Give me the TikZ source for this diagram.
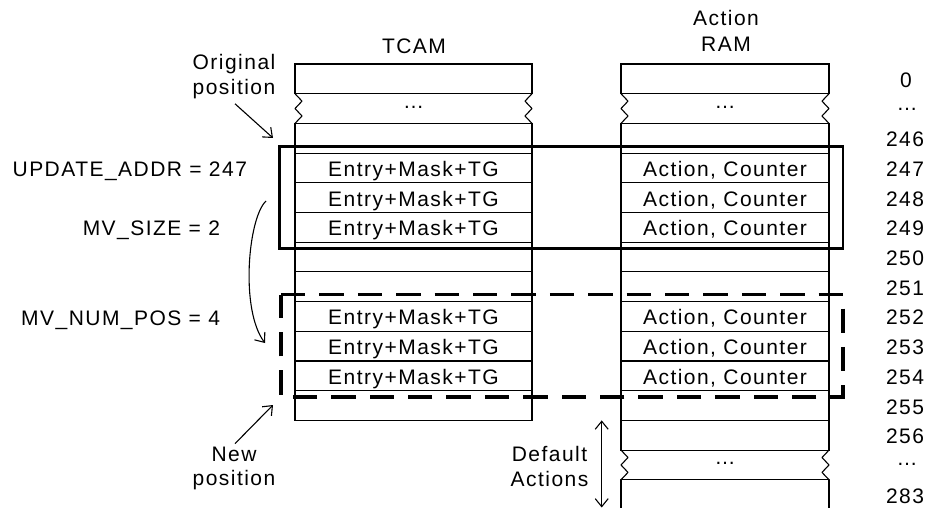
\documentclass[tikz,border=0pt]{standalone}
\usepackage{fontspec}
\setmainfont{Liberation Sans}[LetterSpace=7]
\usetikzlibrary{arrows.meta}
\begin{document}
\begin{tikzpicture}[x=1pt,y=-1pt,
  every node/.style={inner sep=0pt, outer sep=0pt, font=\fontsize{21}{25}\selectfont},
  cell/.style={draw, line width=1.1pt, minimum height=29.7pt, text height=17pt, text depth=0pt},
  tc/.style={cell, minimum width=237pt},
  ar/.style={cell, minimum width=208pt},
  num/.style={text height=17pt, text depth=0pt, minimum height=29.7pt},
  edge/.style={line width=1.1pt, line join=round},
  arr/.style={line width=1.1pt, -{Straight Barb[length=8pt,width=13pt]}},
  darr/.style={line width=1.1pt, {Straight Barb[length=8pt,width=13pt]}-{Straight Barb[length=8pt,width=13pt]}},
  movebox/.style={line width=2.6pt},
  newbox/.style={line width=3.8pt, dash pattern=on 24.4pt off 14pt}
]
\useasboundingbox (0,0) rectangle (927,508);

% ---------------- TCAM column
\node[tc] (t0)   at (413.5,78.85)  {};
\node[tc] (t246) at (413.5,138.25) {};
\node[tc] (t247) at (413.5,167.95) {Entry+Mask+TG};
\node[tc] (t248) at (413.5,197.65) {Entry+Mask+TG};
\node[tc] (t249) at (413.5,227.35) {Entry+Mask+TG};
\node[tc] (t250) at (413.5,257.05) {};
\node[tc] (t251) at (413.5,286.75) {};
\node[tc] (t252) at (413.5,316.45) {Entry+Mask+TG};
\node[tc] (t253) at (413.5,346.15) {Entry+Mask+TG};
\node[tc] (t254) at (413.5,375.85) {Entry+Mask+TG};
\node[tc] (t255) at (413.5,405.55) {};
\draw[edge] (t0.south west) -- ++(7,7.43) -- ++(-7,7.43) -- ++(7,7.43) -- (t246.north west);
\draw[edge] (t0.south east) -- ++(-7,7.43) -- ++(7,7.43) -- ++(-7,7.43) -- (t246.north east);
\node (tdots) at (413.5,107.5) {…};

% ---------------- Action RAM column
\node[ar] (a0)   at (725,78.85)  {};
\node[ar] (a246) at (725,138.25) {};
\node[ar] (a247) at (725,167.95) {Action, Counter};
\node[ar] (a248) at (725,197.65) {Action, Counter};
\node[ar] (a249) at (725,227.35) {Action, Counter};
\node[ar] (a250) at (725,257.05) {};
\node[ar] (a251) at (725,286.75) {};
\node[ar] (a252) at (725,316.45) {Action, Counter};
\node[ar] (a253) at (725,346.15) {Action, Counter};
\node[ar] (a254) at (725,375.85) {Action, Counter};
\node[ar] (a255) at (725,405.55) {};
\node[ar] (a256) at (725,435.25) {};
\draw[edge] (a0.south west) -- ++(7,7.43) -- ++(-7,7.43) -- ++(7,7.43) -- (a246.north west);
\draw[edge] (a0.south east) -- ++(-7,7.43) -- ++(7,7.43) -- ++(-7,7.43) -- (a246.north east);
\node (adots) at (725,107.5) {…};
\coordinate (a283nw) at (621,479.8);
\coordinate (a283ne) at (829,479.8);
\draw[edge] (a256.south west) -- ++(7,7.43) -- ++(-7,7.43) -- ++(7,7.43) -- (a283nw);
\draw[edge] (a256.south east) -- ++(-7,7.43) -- ++(7,7.43) -- ++(-7,7.43) -- (a283ne);
\draw[edge] (621,508) -- (a283nw) -- (a283ne) -- (829,508);
\node (adots2) at (725,463) {…};

% ---------------- headings
\node[anchor=base] (tcamlbl) at (414,53.3) {TCAM};
\node[align=center, font=\fontsize{21}{26.7}\selectfont] (arlbl) at (726,31) {Action\\RAM};

% ---------------- address numbers
\node[num] (n0)   at (906,78.85)  {0};
\node      (nd1)  at (907,109)    {…};
\node[num] (n246) at (905,138.25) {246};
\node[num] (n247) at (905,167.95) {247};
\node[num] (n248) at (905,197.65) {248};
\node[num] (n249) at (905,227.35) {249};
\node[num] (n250) at (905,257.05) {250};
\node[num] (n251) at (905,286.75) {251};
\node[num] (n252) at (905,316.45) {252};
\node[num] (n253) at (905,346.15) {253};
\node[num] (n254) at (905,375.85) {254};
\node[num] (n255) at (905,405.55) {255};
\node[num] (n256) at (905,435.25) {256};
\node      (nd2)  at (907,464)    {…};
\node[num] (n283) at (905,494.65) {283};

% ---------------- left labels
\node[anchor=base east] (upd)  at (247,176.7) {UPDATE\_ADDR = 247};
\node[anchor=base east] (mvs)  at (220,235)   {MV\_SIZE = 2};
\node[anchor=base east] (mvn)  at (220,325)   {MV\_NUM\_POS = 4};

\node[align=center] (orig) at (234,76.5) {Original\\position};
\node[align=center, font=\fontsize{21}{24.5}\selectfont] (newp) at (234,468.3) {New\\position};
\node[align=center] (defa) at (549.5,466.5) {Default\\Actions};

% ---------------- boxes
\draw[movebox] (279.5,146.7) rectangle (843,248.3);
\draw[newbox] (281,294.5) -- (843,294.5) -- (843,397) -- (281,397) -- cycle;

% ---------------- arrows
\coordinate (origtip) at (273,138);
\draw[arr] ([xshift=1pt,yshift=-5pt]orig.south) -- (origtip);
\coordinate (newtip) at (273,405);
\draw[arr] ([xshift=1pt,yshift=3pt]newp.north) -- (newtip);
\coordinate (mvstart) at (266,201);
\coordinate (mvend) at (265,343);
\draw[arr] (mvstart) .. controls (248,218) and (240,310) .. (mvend);
\coordinate (dtop) at ([xshift=-19.3pt]a256.north west);
\coordinate (dbot) at (601.7,507.5);
\draw[darr] (dtop) -- (dbot);
\end{tikzpicture}
\end{document}
